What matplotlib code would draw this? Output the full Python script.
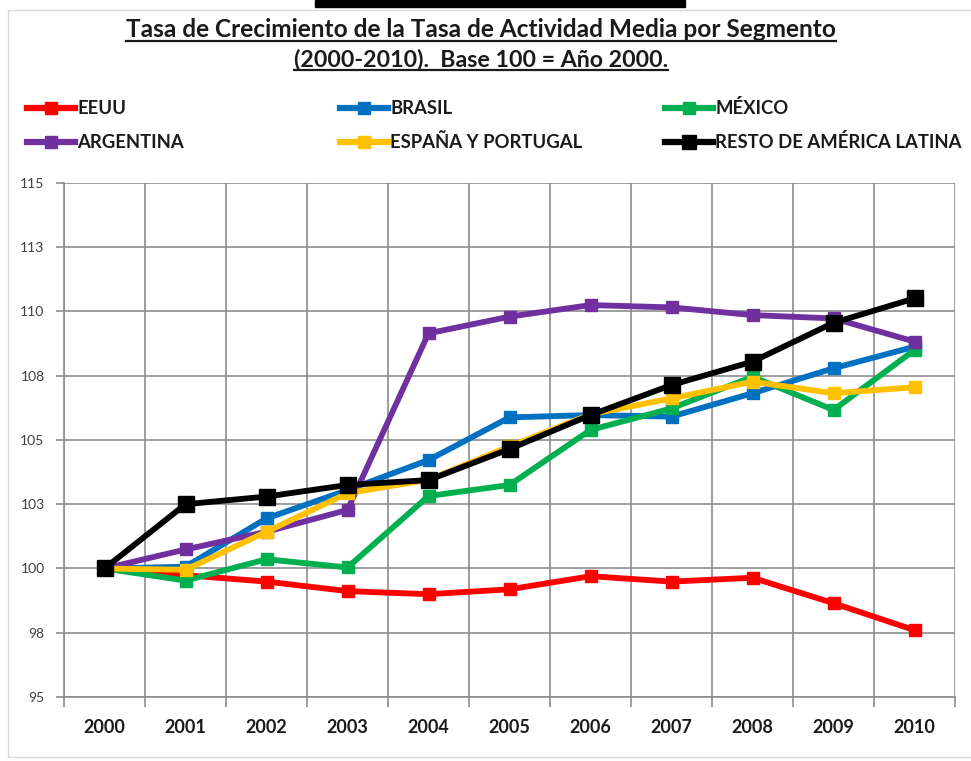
import matplotlib
matplotlib.use("Agg")
import matplotlib.pyplot as plt
from matplotlib.lines import Line2D
from matplotlib.patches import Rectangle

# Índice base 100 = año 2000
years = [2000, 2001, 2002, 2003, 2004, 2005, 2006, 2007, 2008, 2009, 2010]
eeuu = [100, 99.74, 99.49, 99.12, 99.0, 99.19, 99.7, 99.49, 99.64, 98.65, 97.6]
brasil = [100, 100.07, 101.95, 103.05, 104.22, 105.88, 105.97, 105.91, 106.82, 107.79, 108.63]
mexico = [100, 99.53, 100.36, 100.04, 102.82, 103.25, 105.39, 106.23, 107.46, 106.17, 108.5]
argentina = [100, 100.74, 101.43, 102.28, 109.15, 109.8, 110.25, 110.16, 109.86, 109.73, 108.83]
espana_portugal = [100, 99.95, 101.43, 102.93, 103.45, 104.75, 106.0, 106.62, 107.27, 106.82, 107.05]
resto_al = [100, 102.5, 102.8, 103.25, 103.44, 104.65, 105.97, 107.14, 108.05, 109.56, 110.51]

series_names = ["EEUU", "BRASIL", "MÉXICO", "ARGENTINA", "ESPAÑA Y PORTUGAL", "RESTO DE AMÉRICA LATINA"]
series_values = [eeuu, brasil, mexico, argentina, espana_portugal, resto_al]
series_colors = ["#FF0000", "#0070C0", "#00B050", "#7030A0", "#FFC000", "#000000"]

y_ticks = [95, 97.5, 100, 102.5, 105, 107.5, 110, 112.5, 115]
y_tick_labels = ["95", "98", "100", "103", "105", "108", "110", "113", "115"]

title_lines = ["Tasa de Crecimiento de la Tasa de Actividad Media por Segmento",
               "(2000-2010).  Base 100 = Año 2000."]

FONT = ["Lato", "DejaVu Sans"]
plt.rcParams["font.family"] = FONT

W, H = 971, 761
fig = plt.figure(figsize=(W / 100, H / 100), dpi=100)
fig.patch.set_facecolor("white")


def fx(px):
    return px / W


def fy(py):
    return 1 - py / H


# outer frame and black strip at the top
fig.patches.append(Rectangle((fx(8), fy(757)), fx(975) - fx(8), fy(10) - fy(757),
                             transform=fig.transFigure, fill=False,
                             edgecolor="#d9d9d9", linewidth=1))
fig.patches.append(Rectangle((fx(315), fy(7)), fx(685) - fx(315), fy(0) - fy(7),
                             transform=fig.transFigure, color="black"))

ax = fig.add_axes([fx(64), fy(697), fx(955) - fx(64), fy(183) - fy(697)])
x = list(range(len(years)))

for name, vals, col in zip(series_names, series_values, series_colors):
    ms = 11 if col == "#000000" else 8
    ax.plot(x, vals, color=col, linewidth=4.2, marker="s", markersize=ms,
            markeredgecolor=col, markerfacecolor=col, solid_joinstyle="miter")

ax.set_xlim(-0.5, len(years) - 0.5)
ax.set_ylim(95, 115)
ax.set_yticks(y_ticks)
ax.set_yticklabels(y_tick_labels)
ax.set_xticks(x)
ax.set_xticklabels([str(y) for y in years])
ax.set_xticks([i - 0.5 for i in range(len(years) + 1)], minor=True)

ax.grid(True, which="major", axis="y", color="#8c8c8c", linewidth=1.2)
ax.grid(True, which="minor", axis="x", color="#8c8c8c", linewidth=1.2)
ax.set_axisbelow(True)
for s in ["top", "right"]:
    ax.spines[s].set_visible(False)
ax.spines["left"].set_color("#8c8c8c")
ax.spines["bottom"].set_color("#8c8c8c")
ax.spines["left"].set_linewidth(1.2)
ax.spines["bottom"].set_linewidth(1.2)

ax.tick_params(axis="x", which="major", length=0, pad=16, labelsize=13, labelcolor="#1a1a1a")
ax.tick_params(axis="x", which="minor", length=7, color="#8c8c8c", width=1.2)
ax.tick_params(axis="y", length=6, color="#8c8c8c", width=1.2, pad=8, labelsize=10,
               labelcolor="#404040")
for lbl in ax.get_xticklabels():
    lbl.set_fontweight("bold")

# two-line underlined title
title_y = [37, 66]
title_sizes = [17.6, 16.7]
title_texts = []
for line, yb, fs in zip(title_lines, title_y, title_sizes):
    t = fig.text(0.4955, fy(yb), line, ha="center", va="baseline",
                 fontsize=fs, fontweight="bold", color="#1a1a1a")
    title_texts.append((t, yb))

# legend laid out in two rows of three
leg_cols = [27, 340, 665]
leg_rows = [108, 142]
for i, (name, col) in enumerate(zip(series_names, series_colors)):
    r, c = divmod(i, 3)
    x0 = leg_cols[c]
    yy = fy(leg_rows[r])
    fig.add_artist(Line2D([fx(x0), fx(x0 + 48)], [yy, yy], transform=fig.transFigure,
                          color=col, linewidth=4.5))
    fig.add_artist(Line2D([fx(x0 + 24)], [yy], transform=fig.transFigure, marker="s",
                          markersize=9 if col != "#000000" else 10,
                          color=col, linestyle="none"))
    fig.text(fx(x0 + 50), yy, name, ha="left", va="center", fontsize=13.3,
             fontweight="bold", color="#1a1a1a")

fig.canvas.draw()
renderer = fig.canvas.get_renderer()
for t, yb in title_texts:
    bb = t.get_window_extent(renderer)
    uy = fy(yb + 4)
    fig.add_artist(Line2D([bb.x0 / W, bb.x1 / W], [uy, uy], transform=fig.transFigure,
                          color="#1a1a1a", linewidth=1.6))

fig.savefig("out.png", dpi=100, facecolor="white")
